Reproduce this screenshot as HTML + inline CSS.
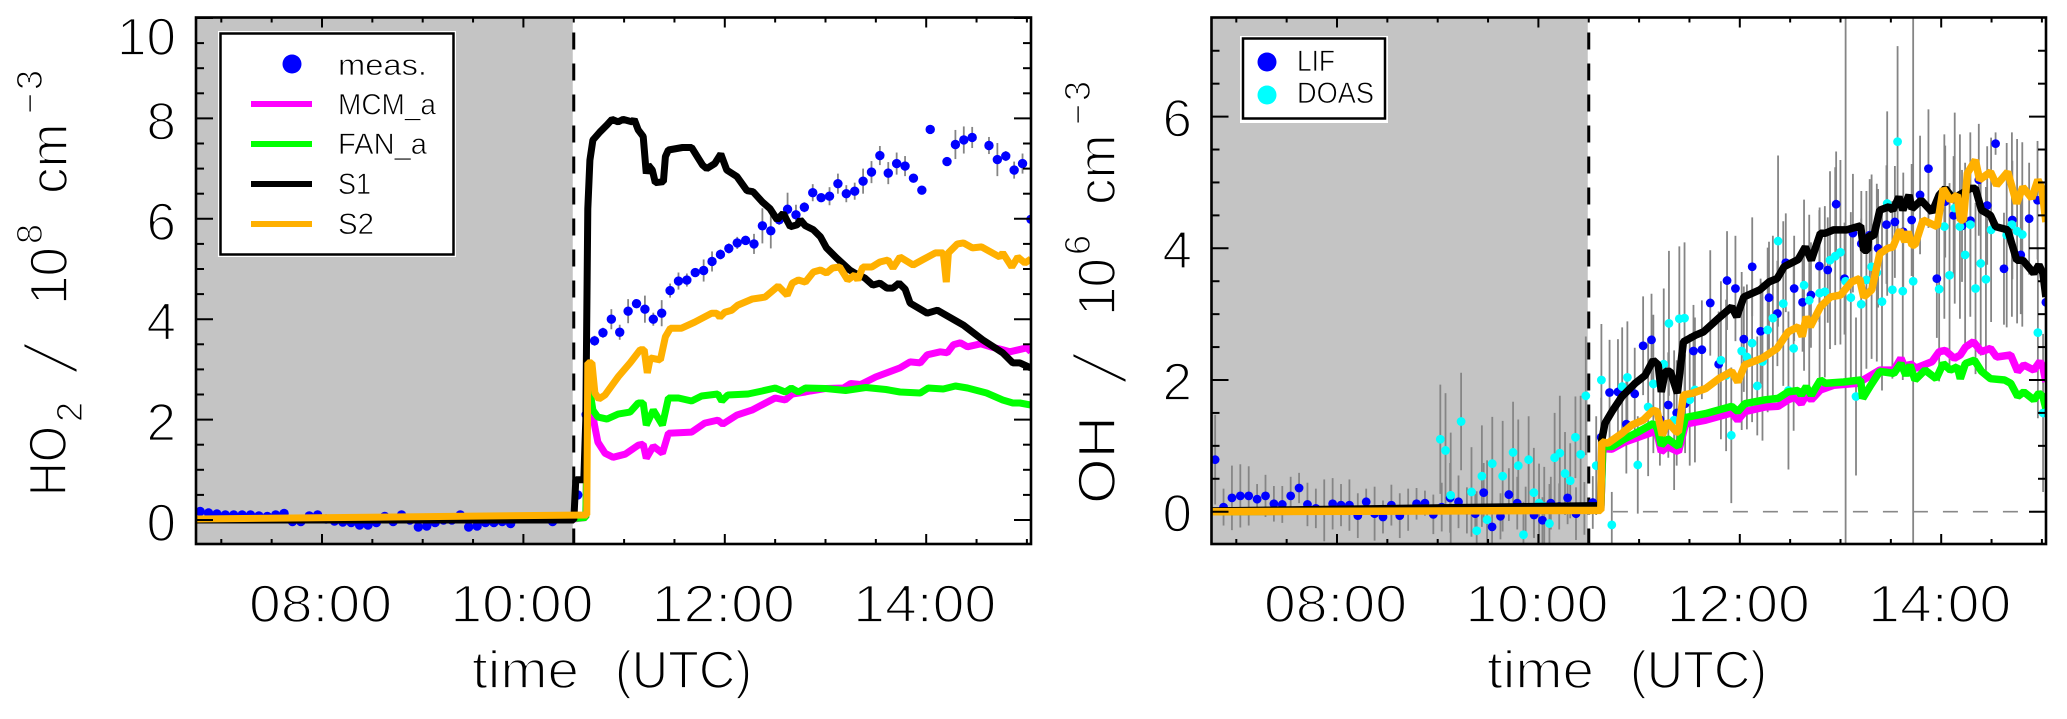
<!DOCTYPE html>
<html>
<head>
<meta charset="utf-8">
<title>HO2 and OH time series</title>
<style>
html,body{margin:0;padding:0;background:#fff;width:2067px;height:719px;overflow:hidden}
svg{display:block}
text{font-family:"Liberation Sans",sans-serif;fill:#000;stroke:#fff}
.big{font-size:53px;stroke-width:1.7px}
.sup{font-size:36px;stroke-width:1.2px}
.leg{font-size:30px;stroke-width:.7px}
</style>
</head>
<body>
<svg id="chart" xmlns="http://www.w3.org/2000/svg" width="2067" height="719" viewBox="0 0 2067 719">
<defs>
<clipPath id="clipL"><rect x="196" y="17" width="835" height="527"/></clipPath>
<clipPath id="clipR"><rect x="1211" y="17" width="835" height="527"/></clipPath>
</defs>
<rect width="2067" height="719" fill="#fff"/>
<g id="panelL"></g>
<g id="panelR"></g>

<g>
<text class="big" textLength="70" lengthAdjust="spacingAndGlyphs" transform="translate(66,496) rotate(-90)">HO</text>
<text class="sup" transform="translate(82,422) rotate(-90)">2</text>
<text class="big" transform="translate(77,373) rotate(-90) scale(1,1.4) skewX(-22)">/</text>
<text class="big" textLength="58" transform="translate(67,305) rotate(-90)">10</text>
<text class="sup" transform="translate(42,244) rotate(-90)">8</text>
<text class="big" transform="translate(67,194) rotate(-90)">cm</text>
<text class="sup" textLength="44" transform="translate(42,114) rotate(-90)">−3</text>
</g>
<g>
<text class="big" textLength="88" lengthAdjust="spacingAndGlyphs" transform="translate(1115,504) rotate(-90)">OH</text>
<text class="big" transform="translate(1126,383) rotate(-90) scale(1,1.4) skewX(-22)">/</text>
<text class="big" textLength="58" transform="translate(1115,316) rotate(-90)">10</text>
<text class="sup" transform="translate(1090,255) rotate(-90)">6</text>
<text class="big" transform="translate(1115,205) rotate(-90)">cm</text>
<text class="sup" textLength="44" transform="translate(1090,125) rotate(-90)">−3</text>
</g>
<g>
<text class="big" x="472" y="688" textLength="107" lengthAdjust="spacingAndGlyphs">time</text>
<text class="big" x="615" y="688" textLength="137" lengthAdjust="spacingAndGlyphs">(UTC)</text>
</g>
<g>
<text class="big" x="1487" y="688" textLength="107" lengthAdjust="spacingAndGlyphs">time</text>
<text class="big" x="1630" y="688" textLength="137" lengthAdjust="spacingAndGlyphs">(UTC)</text>
</g>

<g>
<rect x="218" y="31" width="238" height="226" fill="#fff"/>
<rect x="220.5" y="33.5" width="233" height="221" fill="#fff" stroke="#000" stroke-width="2.5"/>
<g><circle cx="292" cy="64" r="9.5" fill="#0000ff"/><text class="leg" x="338" y="75" textLength="89" lengthAdjust="spacingAndGlyphs">meas.</text></g>
<g><rect x="251" y="101" width="61" height="6" fill="#ff00ff"/><text class="leg" x="338" y="114.5" textLength="98" lengthAdjust="spacingAndGlyphs">MCM_a</text></g>
<g><rect x="251" y="141" width="61" height="6" fill="#00ff00"/><text class="leg" x="338" y="154" textLength="89" lengthAdjust="spacingAndGlyphs">FAN_a</text></g>
<g><rect x="251" y="181" width="61" height="6" fill="#000"/><text class="leg" x="338" y="194" textLength="33" lengthAdjust="spacingAndGlyphs">S1</text></g>
<g><rect x="251" y="221" width="61" height="6" fill="#ffb000"/><text class="leg" x="338" y="234" textLength="36" lengthAdjust="spacingAndGlyphs">S2</text></g>
</g>
<g>
<rect x="1240" y="36" width="148" height="87" fill="#fff"/>
<rect x="1243" y="38.5" width="142" height="80" fill="#fff" stroke="#000" stroke-width="2.5"/>
<g><circle cx="1267" cy="62" r="9.5" fill="#0000ff"/><text class="leg" x="1297" y="71" textLength="38" lengthAdjust="spacingAndGlyphs">LIF</text></g>
<g><circle cx="1267" cy="95" r="9.5" fill="#00ffff"/><text class="leg" x="1297" y="103" textLength="77" lengthAdjust="spacingAndGlyphs">DOAS</text></g>
</g>
</svg>
<script>
/* ---------- shared axis labels ---------- */
const xMajorHours = [8, 10, 12, 14];
const xMinorHours = [7, 7.5, 8.5, 9, 9.5, 10.5, 11, 11.5, 12.5, 13, 13.5, 14.5, 15];
const xTickLabels = ["08:00", "10:00", "12:00", "14:00"];
const ho2YMajor = [0, 2, 4, 6, 8, 10];
const ho2YMinor = [0.5, 1, 1.5, 2.5, 3, 3.5, 4.5, 5, 5.5, 6.5, 7, 7.5, 8.5, 9, 9.5];
const oh2YMajor = [0, 2, 4, 6];
const oh2YMinor = [0.5, 1, 1.5, 2.5, 3, 3.5, 4.5, 5, 5.5, 6.5, 7];
const switchHour = 10.5;

/* ---------- HO2 panel ---------- */
const ho2MeasStart = 6.79;
const measStepHours = 1 / 12;
const ho2Meas = [.17,.14,.12,.1,.1,.1,.1,.08,.07,.1,.13,-.03,-.03,.08,.1,.02,-.02,-.04,-.05,-.1,-.1,-.05,.07,-.03,.1,0,-.14,-.12,-.05,0,0,.1,-.14,-.12,-.05,-.05,-.03,-.07,null,null,null,null,-.03,null,null,.5,2.1,
3.57,3.73,4.0,3.74,4.16,4.31,4.2,4.0,4.12,4.57,4.76,4.78,4.93,4.97,5.15,5.29,5.41,5.52,5.57,5.5,5.86,5.76,5.98,6.19,6.08,
6.23,6.52,6.42,6.45,6.7,6.5,6.55,6.75,6.93,7.26,6.91,7.1,7.05,6.81,6.57,7.78,null,7.14,7.48,7.57,7.62,null,7.46,7.18,7.25,6.97,7.1,5.99];
const ho2MeasErr = [.05,.05,.05,.05,.05,.05,.05,.05,.05,.05,.05,.05,.05,.05,.05,.05,.05,.05,.05,.05,.05,.05,.05,.05,.05,.05,.05,.05,.05,.05,.05,.05,.05,.05,.05,.05,.05,.05,.05,.05,.05,.05,.05,.05,.05,.05,.05,
.1,.1,.2,.15,.24,.05,.27,.13,.26,.14,.17,.13,.05,.22,.2,.1,.1,.12,.05,.2,.35,.35,.1,.33,.2,
.1,.17,.03,.18,.2,.17,.17,.25,.22,.19,.22,.22,.2,.03,.03,0,0,.03,.29,.27,.21,0,.17,.33,.1,.17,.2,0];

const ho2MagentaT = [6.75,10.5,10.62,10.64,10.68,10.71,10.74,10.81,10.89,11.01,11.14,11.19,11.22,11.29,11.38,11.44,11.67,11.8,11.93,11.98,12.12,12.27,12.5,12.6,12.67,12.8,12.85,13,13.18,13.25,13.35,13.5,13.74,13.84,13.94,14.01,14.14,14.21,14.27,14.34,14.41,14.54,14.64,14.76,14.83,15,15.04];
const ho2MagentaV = [0,.02,.05,2.6,2.19,1.85,1.55,1.33,1.25,1.31,1.49,1.51,1.23,1.47,1.33,1.73,1.75,1.93,1.99,1.91,2.09,2.19,2.43,2.39,2.51,2.55,2.57,2.62,2.63,2.72,2.7,2.85,3.03,3.15,3.13,3.29,3.35,3.33,3.49,3.53,3.45,3.51,3.45,3.39,3.35,3.43,3.35];
const ho2GreenT = [6.75,10.5,10.62,10.64,10.67,10.69,10.74,10.83,10.94,11.06,11.14,11.19,11.22,11.29,11.38,11.44,11.54,11.67,11.77,11.93,11.97,12.03,12.23,12.37,12.5,12.6,12.66,12.73,12.8,13.0,13.2,13.4,13.6,13.74,13.94,14.02,14.17,14.29,14.41,14.6,14.76,14.86,14.93,15.04];
const ho2GreenV = [.01,.03,.05,2.6,2.45,2.19,2.05,2.01,2.11,2.15,2.33,2.33,1.89,2.19,1.89,2.43,2.43,2.37,2.47,2.51,2.37,2.49,2.51,2.57,2.63,2.55,2.63,2.55,2.63,2.62,2.58,2.64,2.6,2.55,2.53,2.63,2.61,2.67,2.63,2.53,2.39,2.33,2.33,2.29];
const ho2BlackT = [6.75,10.5,10.52,10.6,10.62,10.64,10.66,10.69,10.76,10.83,10.88,10.94,10.99,11.08,11.1,11.14,11.19,11.22,11.24,11.28,11.31,11.39,11.41,11.44,11.58,11.67,11.78,11.82,11.9,11.96,12.02,12.12,12.22,12.28,12.37,12.45,12.52,12.58,12.65,12.72,12.75,12.8,12.88,12.95,13.01,13.11,13.24,13.29,13.39,13.47,13.54,13.61,13.67,13.73,13.79,13.84,14.01,14.11,14.37,14.56,14.76,14.86,14.93,15.04];
const ho2BlackV = [0,0,.8,.8,2,6.2,7.17,7.57,7.73,7.87,7.98,7.93,7.98,7.93,7.98,7.77,7.64,6.9,7.07,6.97,6.72,6.74,7.24,7.37,7.42,7.42,7.07,7.0,7.1,7.29,6.97,6.84,6.56,6.54,6.34,6.2,5.98,6.11,5.84,5.88,5.98,5.86,5.78,5.64,5.42,5.22,4.98,4.92,4.82,4.68,4.72,4.62,4.62,4.72,4.6,4.32,4.12,4.18,3.88,3.59,3.33,3.13,3.13,3.03];
const ho2OrangeT = [6.75,10.63,10.64,10.68,10.71,10.75,10.81,10.94,11.06,11.16,11.2,11.23,11.26,11.36,11.41,11.46,11.57,11.7,11.87,11.92,11.95,12,12.07,12.13,12.27,12.4,12.53,12.62,12.67,12.73,12.8,12.88,12.95,13.01,13.07,13.14,13.22,13.29,13.32,13.37,13.46,13.54,13.62,13.67,13.74,13.87,13.96,14.09,14.17,14.2,14.22,14.31,14.37,14.46,14.55,14.73,14.76,14.85,14.91,14.98,15.04];
const ho2OrangeV = [.02,.1,3.13,3.13,2.53,2.41,2.49,2.85,3.13,3.39,3.39,2.93,3.23,3.19,3.65,3.82,3.82,3.94,4.12,4.12,4.04,4.14,4.18,4.28,4.4,4.44,4.66,4.48,4.72,4.78,4.74,4.94,4.98,4.92,5.02,5.04,4.78,4.88,4.78,5.04,5.04,5.14,5.18,5.02,5.24,5.08,5.18,5.32,5.32,4.74,5.32,5.5,5.52,5.42,5.44,5.24,5.32,5.04,5.24,5.12,5.2];

/* ---------- OH panel ---------- */
const lifStart = 6.79;
const ohLif = [.79,.07,.21,.24,.24,.19,.24,.12,.11,.24,.36,.11,.05,.02,.12,.1,.1,-.06,.15,-.03,-.08,.1,-.06,.03,.12,.13,-.04,.07,.21,.15,.02,-.03,.29,-.23,-.07,.26,.13,.03,-.05,-.13,.13,.08,.21,-.03,.05,.14,1.13,
1.81,1.82,1.33,1.79,2.52,2.61,1.4,1.62,1.5,1.64,2.44,2.46,3.17,2.24,3.51,3.39,2.62,3.72,2.74,3.25,3.01,3.78,3.39,3.18,3.29,3.73,3.67,4.67,3.54,4.23,4.07,4.2,4.0,4.36,4.4,4.25,4.43,4.81,5.21,3.54,4.71,4.5,4.34,4.42,5.04,4.65,5.59,3.69,4.43,3.9,4.45,4.73,3.18];
const ohLifErr = [.68,.28,.49,.48,.45,.23,.32,.27,.28,.29,.23,.33,.3,.47,.39,.32,.39,.34,.2,.41,.25,.31,.34,.32,.24,.19,.3,.37,.53,.4,.35,.3,.45,.4,.35,.4,.4,.35,.35,.35,.4,.35,.4,.4,.4,.4,.6,
.8,.8,.75,.7,.75,.7,.7,.8,.8,.75,.7,.75,.8,.8,.75,.8,.8,.75,.8,.85,.8,.75,.8,.75,.8,.85,.8,.8,.85,.9,.8,.85,.9,.9,.85,.9,.85,.9,.9,.9,.85,.9,.85,.9,.85,.9,.17,.85,.9,.9,.85,.9,.9];
const doasStart = 9.026;
const doasStepHours = 0.0516;
const ohDoas = [1.1,.93,.25,null,1.37,null,.3,-.29,.54,-.12,.73,null,.54,null,.9,.7,-.35,.79,.29,.13,.08,-.18,.82,.89,.58,.47,1.13,.87,1.76,null,.7,2.0,null,-.2,null,1.9,2.04,null,.71,null,1.59,1.94,null,2.24,2.86,1.39,2.93,2.94,1.7,1.85,null,null,null,null,2.3,2.07,1.16,null,2.44,2.35,2.56,1.91,2.28,2.76,2.94,4.11,3.16,1.84,2.48,null,3.44,3.21,null,3.32,3.34,3.82,3.88,3.94,3.5,3.25,1.75,3.15,3.52,3.72,3.63,3.19,4.68,3.37,5.62,3.35,null,3.5,null,null,null,null,3.38,4.33,3.59,4.61,4.33,3.9,4.36,3.39,3.77,3.53,4.28,null,null,4.2,4.36,4.26,4.21,null,null,2.72,1.5];
const ohDoasErr = [.83,.87,.95,0,.74,0,.68,.6,.77,.9,.71,0,.84,0,.77,.7,.5,.66,.68,.6,.6,.6,.68,.87,.63,.57,.62,.89,.9,0,.75,.85,0,.5,0,.9,.85,0,.74,0,1.05,1.05,0,1.15,1.1,1.06,1.1,1.15,1.0,1.1,0,0,0,0,1.2,1.15,1.03,0,1.2,1.1,1.2,.75,1.2,1.25,1.25,1.3,1.25,1.2,1.25,0,1.3,1.3,0,1.3,1.3,1.35,1.35,1.4,9,1.3,1.2,1.3,1.35,1.4,1.35,1.35,1.4,1.35,1.45,1.35,0,9,0,0,0,0,1.4,1.4,1.4,1.45,1.4,1.4,1.4,1.3,1.4,1.4,1.4,0,0,1.4,1.4,1.4,1.4,0,0,1.3,1.2];

const ohMagentaT = [6.75,10.5,10.62,10.64,10.73,10.86,10.99,11.14,11.18,11.22,11.28,11.39,11.46,11.66,11.92,11.98,12.05,12.25,12.38,12.48,12.55,12.61,12.66,12.71,12.8,12.93,13.17,13.39,13.53,13.6,13.65,13.69,13.75,13.91,13.98,14.04,14.13,14.19,14.24,14.32,14.4,14.49,14.55,14.69,14.76,14.82,14.92,14.98,15.01,15.04];
const ohMagentaV = [0,.03,.05,.96,.95,1.06,1.13,1.21,1.19,.91,.99,.91,1.33,1.39,1.5,1.39,1.52,1.59,1.6,1.7,1.74,1.64,1.77,1.7,1.85,1.92,1.95,2.15,2.15,2.33,2.15,2.25,2.18,2.28,2.43,2.45,2.33,2.38,2.5,2.58,2.43,2.48,2.35,2.38,2.13,2.23,2.15,2.28,2.2,1.97];
const ohGreenT = [6.75,10.5,10.62,10.64,10.73,10.86,10.99,11.14,11.18,11.22,11.28,11.39,11.46,11.66,11.92,11.98,12.05,12.25,12.38,12.48,12.58,12.61,12.66,12.71,12.8,12.85,13.03,13.2,13.22,13.3,13.39,13.53,13.6,13.65,13.69,13.74,13.84,13.95,14.02,14.09,14.16,14.19,14.24,14.33,14.4,14.49,14.63,14.69,14.76,14.82,14.92,14.97,15.01,15.04];
const ohGreenV = [0,.03,.05,.99,.99,1.11,1.21,1.34,1.27,1.01,1.11,.99,1.43,1.49,1.6,1.52,1.64,1.7,1.72,1.82,1.84,1.77,1.9,1.77,2.0,1.95,1.97,2.0,1.72,1.92,2.13,2.1,2.25,2.07,2.23,2.0,2.15,2.02,2.25,2.15,2.2,2.02,2.25,2.3,2.13,2.02,2.0,1.95,1.75,1.82,1.7,1.8,1.75,1.57];
const ohBlackT = [6.75,10.6,10.62,10.63,10.66,10.73,10.83,10.96,11.06,11.14,11.19,11.22,11.26,11.31,11.38,11.44,11.56,11.64,11.79,11.92,11.97,12.04,12.2,12.29,12.37,12.44,12.58,12.65,12.71,12.8,12.85,12.93,13.06,13.2,13.23,13.27,13.28,13.33,13.39,13.48,13.52,13.58,13.62,13.68,13.71,13.8,13.91,13.98,14.04,14.12,14.18,14.29,14.34,14.4,14.49,14.54,14.66,14.75,14.81,14.92,14.97,15.01,15.04];
const ohBlackV = [.01,.09,.09,1.09,1.34,1.52,1.75,1.95,2.07,2.3,2.23,1.82,2.13,2.13,1.8,2.58,2.68,2.73,2.94,3.11,2.96,3.26,3.37,3.49,3.54,3.72,3.83,4.02,3.82,4.23,4.23,4.28,4.28,4.34,3.97,3.97,4.2,4.18,4.58,4.63,4.58,4.78,4.58,4.81,4.6,4.73,4.55,4.81,4.91,4.75,4.81,4.91,4.91,4.58,4.5,4.33,4.28,3.82,3.82,3.62,3.75,3.62,3.26];
const ohOrangeT = [6.75,10.62,10.63,10.69,10.83,10.93,11.04,11.14,11.18,11.23,11.28,11.37,11.39,11.44,11.53,11.66,11.79,11.92,11.98,12.05,12.22,12.37,12.48,12.58,12.62,12.66,12.7,12.8,12.9,13.0,13.11,13.19,13.23,13.31,13.39,13.47,13.52,13.59,13.64,13.67,13.71,13.74,13.82,13.96,14.02,14.09,14.16,14.19,14.22,14.26,14.34,14.38,14.49,14.55,14.66,14.75,14.81,14.9,14.96,15.0,15.04];
const ohOrangeV = [0,.02,1.06,1.04,1.19,1.32,1.39,1.54,1.52,1.16,1.37,1.21,1.21,1.77,1.8,1.87,2.02,2.13,1.97,2.23,2.33,2.48,2.73,2.81,2.66,2.96,2.81,3.11,3.26,3.29,3.49,3.54,3.26,3.37,3.92,4.0,4.02,4.28,4.1,4.25,4.05,4.05,4.43,4.33,4.91,4.73,4.81,4.43,4.43,5.14,5.34,5.04,5.16,4.96,5.16,4.68,4.93,4.76,5.04,4.91,4.4];

/* ---------- drawing ---------- */
const SVGNS = "http://www.w3.org/2000/svg";
function node(parent, tag, props) {
  const el = document.createElementNS(SVGNS, tag);
  for (const k in props) el.setAttribute(k, props[k]);
  parent.appendChild(el);
  return el;
}
const hourXL = t => 322 + (t - 8) * 100.7;
const hourXR = t => 1337 + (t - 8) * 100.7;
const ho2Y = v => 520 - v * 50.2;
const ohY = v => 511.7 - v * 65.85;
const AX_TOP = 17.5, AX_BOT = 544;

function linePath(parent, xs, ys, xf, yf, color, width, name) {
  const pts = xs.map((t, i) => xf(t).toFixed(1) + "," + yf(ys[i]).toFixed(1)).join(" ");
  const el = node(parent, "polyline", {points: pts, fill: "none", stroke: color, "stroke-width": width, "stroke-linejoin": "bevel"});
  
  
}
function errorBars(parent, start, step, vals, errs, xf, yf, name) {
  const gE = node(parent, "g", {});
  
  
  vals.forEach((v, i) => {
    if (v === null || !errs[i]) return;
    const x = xf(start + i * step);
    const bar = node(gE, "line", {x1: x, x2: x, y1: Math.min(yf(v - errs[i]), AX_BOT), y2: Math.max(yf(v + errs[i]), AX_TOP), stroke: "#858585", "stroke-width": 1.8});
    
    
  });
}
function dots(parent, start, step, vals, xf, yf, color, r, name) {
  const gD = node(parent, "g", {fill: color});
  
  
  vals.forEach((v, i) => {
    if (v === null) return;
    const dot = node(gD, "circle", {cx: xf(start + i * step), cy: yf(v), r: r});
    
    
  });
}
function axes(parent, xf, left, right, yf, yMajor, yMinor, yLabelEnd, yLabelBaselines, prefix) {
  const frame = node(parent, "rect", {x: left, y: AX_TOP, width: right - left, height: AX_BOT - AX_TOP, fill: "none", stroke: "#000", "stroke-width": 2.6});
  
  
  const g = node(parent, "g", {stroke: "#000", "stroke-width": 2});
  
  
  xMajorHours.forEach(t => {
    const x = xf(t);
    node(g, "line", {x1: x, x2: x, y1: AX_BOT, y2: AX_BOT - 10});
    node(g, "line", {x1: x, x2: x, y1: AX_TOP, y2: AX_TOP + 10});
  });
  xMinorHours.forEach(t => {
    const x = xf(t);
    node(g, "line", {x1: x, x2: x, y1: AX_BOT, y2: AX_BOT - 5});
    node(g, "line", {x1: x, x2: x, y1: AX_TOP, y2: AX_TOP + 5});
  });
  yMajor.forEach(v => {
    const y = yf(v);
    node(g, "line", {x1: left, x2: left + 17, y1: y, y2: y});
    node(g, "line", {x1: right, x2: right - 17, y1: y, y2: y});
  });
  yMinor.forEach(v => {
    const y = yf(v);
    node(g, "line", {x1: left, x2: left + 8, y1: y, y2: y});
    node(g, "line", {x1: right, x2: right - 8, y1: y, y2: y});
  });
  xTickLabels.forEach((s, i) => {
    const t = node(parent, "text", {"class": "big", x: xf(xMajorHours[i]) - 73, y: 622, textLength: 143, lengthAdjust: "spacingAndGlyphs"});
    t.textContent = s;
    
    
  });
  yMajor.forEach(v => {
    const t = node(parent, "text", {"class": "big", x: yLabelEnd, y: yLabelBaselines(v), "text-anchor": "end"});
    t.textContent = String(v);
    
    
  });
}

/* left panel */
(function () {
  const p = document.getElementById("panelL");
  const shade = node(p, "rect", {x: 196, y: AX_TOP, width: hourXL(switchHour) - 1 - 196, height: AX_BOT - AX_TOP, fill: "#c4c4c4"});
  
  
  const dash = node(p, "line", {x1: hourXL(switchHour), x2: hourXL(switchHour), y1: AX_TOP, y2: AX_BOT, stroke: "#000", "stroke-width": 3, "stroke-dasharray": "17 14", "stroke-dashoffset": "-15"});
  
  
  const c = node(p, "g", {"clip-path": "url(#clipL)"});
  
  
  errorBars(c, ho2MeasStart, measStepHours, ho2Meas, ho2MeasErr, hourXL, ho2Y, "ho2-measured");
  dots(c, ho2MeasStart, measStepHours, ho2Meas, hourXL, ho2Y, "#0000ff", 4.7, "ho2-measured");
  linePath(c, ho2MagentaT, ho2MagentaV, hourXL, ho2Y, "#ff00ff", 7, "ho2-line-mcm-a");
  linePath(c, ho2GreenT, ho2GreenV, hourXL, ho2Y, "#00ff00", 7, "ho2-line-fan-a");
  linePath(c, ho2BlackT, ho2BlackV, hourXL, ho2Y, "#000000", 7, "ho2-line-s1");
  linePath(c, ho2OrangeT, ho2OrangeV, hourXL, ho2Y, "#ffb000", 7, "ho2-line-s2");
  axes(p, hourXL, 196, 1031, ho2Y, ho2YMajor, ho2YMinor, 176, v => v === 10 ? 55 : ho2Y(v) + 21, "ho2");
})();

/* right panel */
(function () {
  const p = document.getElementById("panelR");
  const shade = node(p, "rect", {x: 1211, y: AX_TOP, width: hourXR(switchHour) - 1 - 1211, height: AX_BOT - AX_TOP, fill: "#c4c4c4"});
  
  
  const zero = node(p, "line", {x1: hourXR(10.74), x2: 2046, y1: ohY(0), y2: ohY(0), stroke: "#888", "stroke-width": 1.6, "stroke-dasharray": "15 15"});
  
  
  const dash = node(p, "line", {x1: hourXR(switchHour), x2: hourXR(switchHour), y1: AX_TOP, y2: AX_BOT, stroke: "#000", "stroke-width": 3, "stroke-dasharray": "17 14", "stroke-dashoffset": "-15"});
  
  
  const c = node(p, "g", {"clip-path": "url(#clipR)"});
  
  
  errorBars(c, lifStart, measStepHours, ohLif, ohLifErr, hourXR, ohY, "oh-lif");
  errorBars(c, doasStart, doasStepHours, ohDoas, ohDoasErr, hourXR, ohY, "oh-doas");
  dots(c, lifStart, measStepHours, ohLif, hourXR, ohY, "#0000ff", 4.4, "oh-lif");
  dots(c, doasStart, doasStepHours, ohDoas, hourXR, ohY, "#00ffff", 4.4, "oh-doas");
  linePath(c, ohMagentaT, ohMagentaV, hourXR, ohY, "#ff00ff", 7.5, "oh-line-mcm-a");
  linePath(c, ohGreenT, ohGreenV, hourXR, ohY, "#00ff00", 7.5, "oh-line-fan-a");
  linePath(c, ohBlackT, ohBlackV, hourXR, ohY, "#000000", 7.5, "oh-line-s1");
  linePath(c, ohOrangeT, ohOrangeV, hourXR, ohY, "#ffb000", 7.5, "oh-line-s2");
  axes(p, hourXR, 1211.5, 2046, ohY, oh2YMajor, oh2YMinor, 1192, v => ohY(v) + 20, "oh");
})();
</script>
</body>
</html>
